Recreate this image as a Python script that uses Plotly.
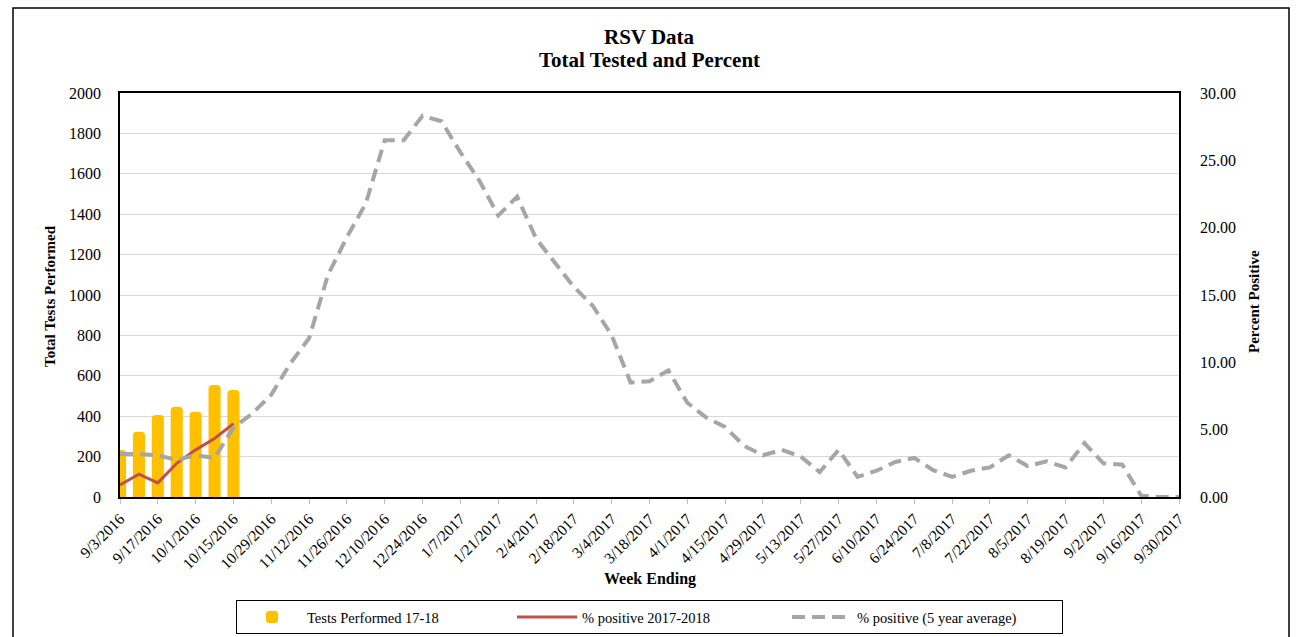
import plotly.graph_objects as go

weeks = [
    "9/3/2016", "9/10/2016", "9/17/2016", "9/24/2016", "10/1/2016", "10/8/2016", "10/15/2016",
    "10/22/2016", "10/29/2016", "11/5/2016", "11/12/2016", "11/19/2016", "11/26/2016",
    "12/3/2016", "12/10/2016", "12/17/2016", "12/24/2016", "12/31/2016",
    "1/7/2017", "1/14/2017", "1/21/2017", "1/28/2017", "2/4/2017", "2/11/2017", "2/18/2017",
    "2/25/2017", "3/4/2017", "3/11/2017", "3/18/2017", "3/25/2017", "4/1/2017", "4/8/2017",
    "4/15/2017", "4/22/2017", "4/29/2017", "5/6/2017", "5/13/2017", "5/20/2017", "5/27/2017",
    "6/3/2017", "6/10/2017", "6/17/2017", "6/24/2017", "7/1/2017", "7/8/2017", "7/15/2017",
    "7/22/2017", "7/29/2017", "8/5/2017", "8/12/2017", "8/19/2017", "8/26/2017",
    "9/2/2017", "9/9/2017", "9/16/2017", "9/23/2017", "9/30/2017",
]

tests_performed = [233, 323, 406, 447, 422, 554, 530]
pct_2017_2018 = [0.9, 1.7, 1.05, 2.5, 3.5, 4.35, 5.45]
pct_5yr_avg = [
    3.2, 3.2, 3.1, 2.75, 3.1, 2.9, 5.15, 6.2, 7.6, 9.9, 11.8, 16.5, 19.3, 21.8,
    26.5, 26.5, 28.3, 27.9, 25.6, 23.5, 20.9, 22.3, 19.2, 17.4, 15.6, 14.2, 12.0,
    8.5, 8.6, 9.4, 7.0, 5.9, 5.2, 3.8, 3.1, 3.5, 3.0, 1.85, 3.5, 1.5, 1.95, 2.6,
    2.9, 2.0, 1.5, 1.95, 2.2, 3.1, 2.3, 2.65, 2.2, 4.0, 2.5, 2.4, 0.1, 0.0, 0.0,
]
tick_labels = weeks[::2]

FONT = "Liberation Serif, Times New Roman, serif"
W, H = 1298, 637
L, R, T, B = 120, 119, 93, 140
pw, ph = W - L - R, H - T - B


def px_x(x):
    return (x - L) / pw


def px_y(y):
    return (H - B - y) / ph


fig = go.Figure()
fig.add_trace(go.Bar(
    x=weeks[:len(tests_performed)], y=tests_performed, name="Tests Performed 17-18",
    marker=dict(color="#FFC000", line=dict(width=0)), width=0.64, yaxis="y",
))
fig.add_trace(go.Scatter(
    x=weeks[:len(pct_2017_2018)], y=pct_2017_2018, name="% positive 2017-2018",
    mode="lines", line=dict(color="#C0504D", width=3), yaxis="y2",
))
fig.add_trace(go.Scatter(
    x=weeks, y=pct_5yr_avg, name="% positive (5 year average)",
    mode="lines", line=dict(color="#A6A6A6", width=4, dash="13px,7px"), yaxis="y2",
))

fig.update_layout(
    width=W, height=H,
    margin=dict(l=L, r=R, t=T, b=B, pad=0, autoexpand=False),
    paper_bgcolor="white", plot_bgcolor="white",
    font=dict(family=FONT, color="black", size=16),
    barcornerradius=4,
    showlegend=True,
    legend=dict(
        orientation="h", x=0.5, xanchor="center", y=px_y(634), yanchor="bottom",
        bordercolor="black", borderwidth=1, font=dict(size=14.5, family=FONT),
        entrywidth=200, entrywidthmode="pixels", itemwidth=60,
        traceorder="normal",
    ),
    xaxis=dict(
        type="category", categoryorder="array", categoryarray=weeks,
        range=[0, len(weeks) - 1], automargin=False,
        tickmode="array", tickvals=tick_labels, ticktext=tick_labels,
        tickangle=-45, tickfont=dict(size=15.5, family=FONT),
        ticks="outside", ticklen=5, tickcolor="#BFBFBF",
        showline=True, linecolor="black", linewidth=1.5, mirror=True,
        showgrid=False, zeroline=False,
    ),
    yaxis=dict(
        range=[0, 2000], dtick=200, tickfont=dict(size=16, family=FONT), automargin=False,
        showgrid=True, gridcolor="#D9D9D9", gridwidth=1,
        showline=True, linecolor="black", linewidth=1.5, mirror=True,
        ticks="", ticklabelstandoff=14, zeroline=False,
    ),
    yaxis2=dict(
        range=[0, 30], dtick=5, tickformat=".2f", overlaying="y", side="right",
        tickfont=dict(size=16, family=FONT), showgrid=False, automargin=False,
        showline=True, linecolor="black", linewidth=1.5,
        ticks="", ticklabelstandoff=16, zeroline=False,
    ),
    shapes=[dict(
        type="rect", xref="paper", yref="paper",
        x0=px_x(13), x1=px_x(1289), y0=px_y(660), y1=px_y(8),
        line=dict(color="black", width=1.5), fillcolor="rgba(0,0,0,0)", layer="below",
    )],
    annotations=[
        dict(text="<b>RSV Data</b>", xref="paper", yref="paper", x=0.5, y=px_y(37),
             xanchor="center", yanchor="middle", showarrow=False, font=dict(size=21, family=FONT)),
        dict(text="<b>Total Tested and Percent</b>", xref="paper", yref="paper", x=0.5, y=px_y(60),
             xanchor="center", yanchor="middle", showarrow=False, font=dict(size=21, family=FONT)),
        dict(text="<b>Week Ending</b>", xref="paper", yref="paper", x=0.5, y=px_y(579),
             xanchor="center", yanchor="middle", showarrow=False, font=dict(size=16, family=FONT)),
        dict(text="<b>Total Tests Performed</b>", xref="paper", yref="paper", x=px_x(50), y=px_y(296),
             xanchor="center", yanchor="middle", textangle=-90, showarrow=False,
             font=dict(size=15, family=FONT)),
        dict(text="<b>Percent Positive</b>", xref="paper", yref="paper", x=px_x(1254), y=px_y(302),
             xanchor="center", yanchor="middle", textangle=-90, showarrow=False,
             font=dict(size=15, family=FONT)),
    ],
)

fig.write_html(
    "out.html",
    config={"displayModeBar": False},
    post_script="document.body.style.margin='0';document.body.style.padding='0';",
)
